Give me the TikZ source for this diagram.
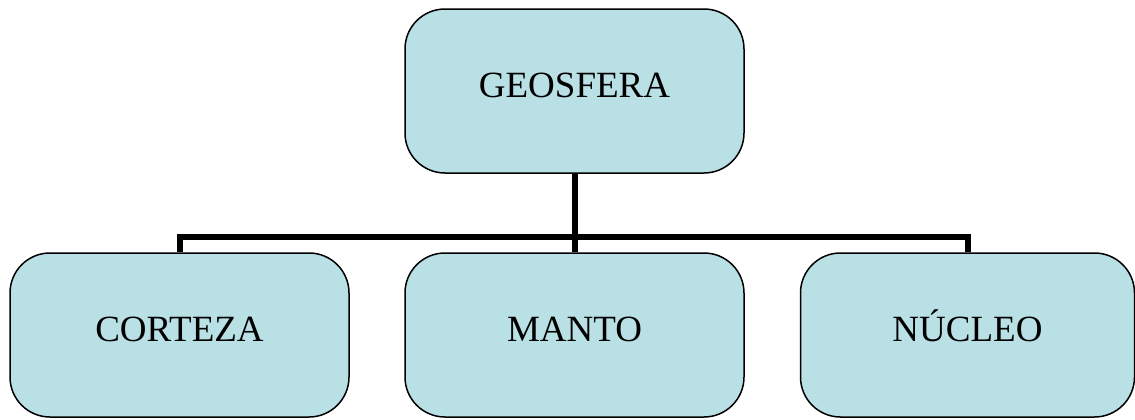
\documentclass[tikz,border=0pt]{standalone}
\usepackage{fontspec}
\setmainfont{Liberation Serif}
\definecolor{capa}{RGB}{185,224,228}

\begin{document}
\begin{tikzpicture}[
    caja/.style={draw=black,line width=0.75pt,fill=capa,rounded corners=20pt,
      minimum width=169.5pt,minimum height=82pt,inner sep=0pt,
      text height=12.3pt,text depth=6pt,
      font=\fontsize{18.5}{22}\selectfont},
    rama/.style={line width=3pt}
  ]
      \useasboundingbox (0,0) rectangle (567.5pt,209.5pt);
      \node [caja] (geo) at (287.25pt,164pt) {GEOSFERA};
      \node [caja] (corteza) at (89.75pt,42pt) {CORTEZA};
      \node [caja] (manto) at (287.25pt,42pt) {MANTO};
      \node [caja,minimum width=167pt] (nucleo) at (483.75pt,42pt) {NÚCLEO};
      \coordinate (cruce) at (287.25pt,91pt);
      \draw [rama] (geo.south) -- (manto.north);
      \draw [rama] (corteza.north) |- (cruce) -| (nucleo.north);
    \end{tikzpicture}
\end{document}
